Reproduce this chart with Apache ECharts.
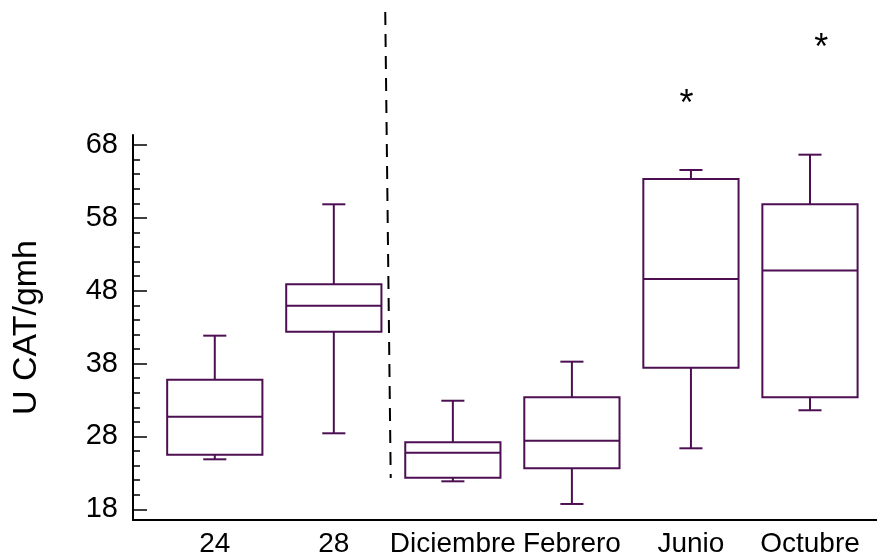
<!DOCTYPE html>
<html>
<head>
<meta charset="utf-8">
<script src="https://cdn.jsdelivr.net/npm/echarts@6/dist/echarts.min.js"></script>
<style>
  html, body { margin: 0; padding: 0; background: #fff; }
  #chart { width: 877px; height: 560px; }
</style>
</head>
<body>
<div id="chart"></div>
<script>
// Groups on the horizontal axis
const categories = ['24', '28', 'Diciembre', 'Febrero', 'Junio', 'Octubre'];

// Box-and-whisker statistics per group (U CAT/gmh)
const whiskerLow  = [24.86, 28.43, 21.84, 18.73, 26.37, 31.59];
const quartile1   = [25.49, 42.38, 22.34, 23.63, 37.43, 33.37];
const medians     = [30.71, 45.95, 25.77, 27.42, 49.61, 50.78];
const quartile3   = [35.79, 48.88, 27.20, 33.37, 63.33, 59.86];
const whiskerHigh = [41.83, 59.86, 32.90, 38.26, 64.57, 66.67];

// Outliers: position along the group axis and value
const outlierX = [3.963, 5.095];
const outlierY = [74.6, 82.2];

// Dashed separator between the two groups of boxes (x, y)
const separatorX = [1.432, 1.478];
const separatorY = [86.25, 22.3];

// Axis ticks
const yMajorTicks = [18, 28, 38, 48, 58, 68];
const yMinorTicks = [20, 22, 24, 26, 30, 32, 34, 36, 40, 42, 44, 46, 50, 52, 54, 56, 60, 62, 64, 66];

const BOX_COLOR = '#4d0f52';
const FONT = '"Liberation Sans", Arial, sans-serif';

const boxData = categories.map((c, i) =>
  [i, whiskerLow[i], quartile1[i], medians[i], quartile3[i], whiskerHigh[i]]);
const outlierData = outlierX.map((x, i) => [x, outlierY[i]]);
const separatorData = separatorX.map((x, i) => [x, separatorY[i]]);

function renderBox(params, api) {
  const i = api.value(0);
  const band = api.size([1, 0])[0];
  const half = band * 0.4;
  const cap = band * 0.097;
  const cx = api.coord([i, api.value(3)])[0];
  const yLo = api.coord([i, api.value(1)])[1];
  const yQ1 = api.coord([i, api.value(2)])[1];
  const yMed = api.coord([i, api.value(3)])[1];
  const yQ3 = api.coord([i, api.value(4)])[1];
  const yHi = api.coord([i, api.value(5)])[1];
  const st = { stroke: BOX_COLOR, lineWidth: 2, fill: null };
  const line = (x1, y1, x2, y2) => ({ type: 'line', shape: { x1, y1, x2, y2 }, style: st });
  return {
    type: 'group',
    children: [
      { type: 'rect', shape: { x: cx - half, y: yQ3, width: half * 2, height: yQ1 - yQ3 }, style: st },
      line(cx - half, yMed, cx + half, yMed),
      line(cx, yQ3, cx, yHi),
      line(cx, yQ1, cx, yLo),
      line(cx - cap, yHi, cx + cap, yHi),
      line(cx - cap, yLo, cx + cap, yLo)
    ]
  };
}

function renderOutlier(params, api) {
  const pt = api.coord([api.value(0), api.value(1)]);
  return {
    type: 'text',
    x: pt[0],
    y: pt[1] + 8,
    style: { text: '*', font: '36px ' + FONT, fill: '#000', align: 'center', verticalAlign: 'middle' }
  };
}

const chart = echarts.init(document.getElementById('chart'), null, { renderer: 'canvas' });
chart.setOption({
  animation: false,
  backgroundColor: '#fff',
  grid: { left: 133, right: 0, top: 135, bottom: 40 },
  xAxis: {
    type: 'value',
    min: -0.687,
    max: 5.563,
    splitLine: { show: false },
    axisLine: { show: true, onZero: false, lineStyle: { color: '#000', width: 2 } },
    axisTick: { show: false },
    axisLabel: {
      customValues: [0, 1, 2, 3, 4, 5],
      formatter: v => categories[Math.round(v)],
      color: '#000', fontSize: 28, fontFamily: FONT, margin: 10
    }
  },
  yAxis: [
    {
      type: 'value',
      min: 16.53,
      max: 69.37,
      name: 'U CAT/gmh',
      nameLocation: 'middle',
      nameRotate: 90,
      nameGap: 89,
      nameTextStyle: { color: '#000', fontSize: 34, fontFamily: FONT },
      splitLine: { show: false },
      axisLine: { show: true, onZero: false, lineStyle: { color: '#000', width: 2 } },
      axisTick: { show: true, inside: true, length: 14, customValues: yMajorTicks, lineStyle: { color: '#000', width: 1.5 } },
      axisLabel: { customValues: yMajorTicks, color: '#000', fontSize: 29, fontFamily: FONT, margin: 15 }
    },
    {
      type: 'value',
      min: 16.53,
      max: 69.37,
      position: 'left',
      offset: 0,
      splitLine: { show: false },
      axisLine: { show: false, onZero: false },
      axisLabel: { show: false },
      axisTick: { show: true, inside: true, length: 7, customValues: yMinorTicks, lineStyle: { color: '#000', width: 1.5 } }
    }
  ],
  series: [
    {
      type: 'line',
      data: separatorData,
      clip: false,
      symbol: 'none',
      lineStyle: { color: '#000', width: 2, type: [13, 9] },
      silent: true
    },
    {
      type: 'custom',
      data: boxData,
      renderItem: renderBox,
      encode: { x: 0, y: [1, 2, 3, 4, 5] },
      clip: false
    },
    {
      type: 'custom',
      data: outlierData,
      renderItem: renderOutlier,
      encode: { x: 0, y: 1 },
      clip: false
    }
  ]
});
</script>
</body>
</html>
